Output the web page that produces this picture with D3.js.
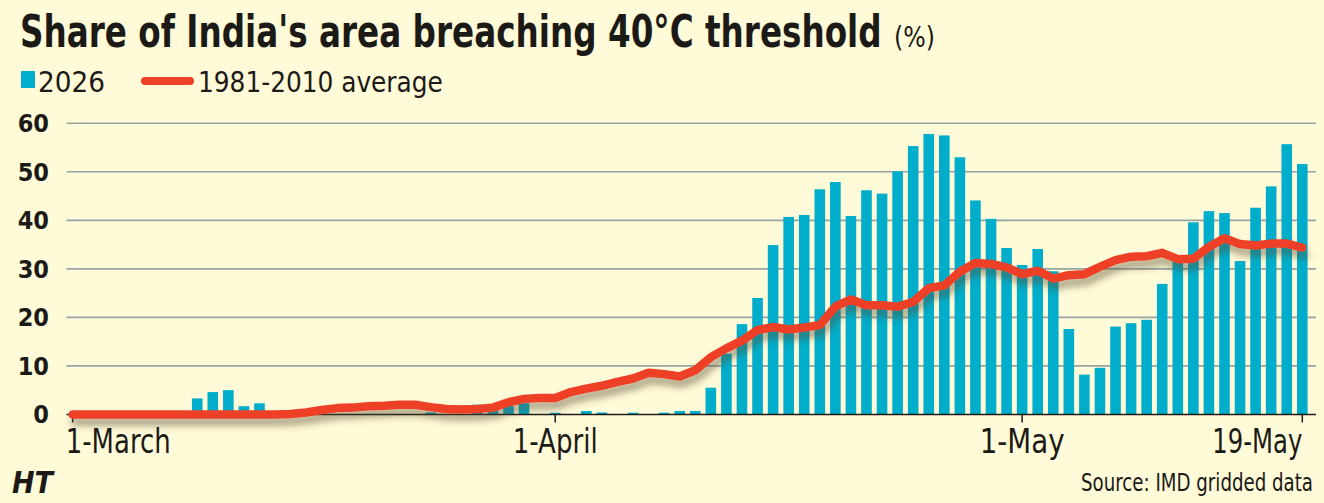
<!DOCTYPE html>
<html>
<head>
<meta charset="utf-8">
<script src="https://d3js.org/d3.v7.min.js"></script>
<style>
    body { margin: 0; background: #fffad8; }
    text { font-family: "Liberation Sans Narrow", "DejaVu Sans Condensed", "Roboto Condensed", sans-serif; fill: #1c1a16; }
</style>
</head>
<body>
<script>

    // day index 0 = 1 March ... 79 = 19 May
    var days = d3.range(80);

    // share of area above 40C in 2026 (%)
    var share2026 = [
        0, 0, 0, 0, 0, 0, 0, 0, 3.3, 4.6,
        5.0, 1.7, 2.3, 0, 0, 0, 0, 0, 0, 0,
        0, 0, 0, 0.4, 0, 0, 2.0, 1.0, 1.7, 2.3,
        0, 0.35, 0, 0.7, 0.4, 0, 0.35, 0, 0.35, 0.7,
        0.7, 5.5, 12.5, 18.6, 24.0, 34.9, 40.7, 41.1, 46.4, 47.9,
        40.9, 46.2, 45.5, 50.1, 55.3, 57.8, 57.5, 53.0, 44.1, 40.3,
        34.3, 30.8, 34.1, 29.5, 17.6, 8.2, 9.6, 18.1, 18.8, 19.5,
        26.9, 32.0, 39.6, 41.9, 41.5, 31.6, 42.6, 47.0, 55.7, 51.6
    ];

    // 1981-2010 average (%)
    var shareAvg = [
        0, 0, 0, 0, 0, 0, 0, 0, 0, 0,
        0, 0, 0, 0, 0.1, 0.4, 0.9, 1.3, 1.4, 1.7,
        1.8, 2.0, 2.0, 1.5, 1.1, 1.0, 1.1, 1.4, 2.5, 3.2,
        3.4, 3.4, 4.6, 5.3, 5.9, 6.7, 7.4, 8.6, 8.3, 7.8,
        9.1, 11.8, 13.6, 15.2, 17.4, 18.0, 17.5, 17.9, 18.4, 22.2,
        23.7, 22.5, 22.5, 22.2, 23.2, 26.0, 26.6, 29.4, 31.2, 31.0,
        30.3, 28.9, 29.6, 28.0, 28.7, 28.9, 30.4, 31.8, 32.5, 32.6,
        33.3, 32.0, 32.1, 34.5, 36.3, 35.1, 34.8, 35.2, 35.2, 34.4
    ];

    var yTicks = [0, 10, 20, 30, 40, 50, 60];
    var xTickDays = [0, 31, 61, 79];
    var xTickLabels = ["1-March", "1-April", "1-May", "19-May"];
    var xTickAnchors = ["start", "middle", "middle", "end"];
    var xTickWidths = [105, 85, 85, 90];

    var W = 1324, H = 503;
    var svg = d3.select("body").append("svg")
        .attr("width", W)
        .attr("height", H);

    svg.append("rect").attr("width", W).attr("height", H).attr("fill", "#fffad8");

    // squeeze a text to a given width (fonts here are wider than the original)
    function fitText(t, px, py, width) {
        t.attr("x", 0).attr("y", 0);
        var w = t.node().getComputedTextLength();
        t.attr("transform", "translate(" + px + "," + py + ") scale(" + (width / w) + ",1)");
        return t;
    }

    // shadow under the red line
    var defs = svg.append("defs");
    defs.append("filter")
        .attr("id", "shadow")
        .attr("x", "-5%").attr("y", "-50%")
        .attr("width", "110%").attr("height", "200%")
        .append("feDropShadow")
        .attr("dx", 2).attr("dy", 7)
        .attr("stdDeviation", 3.5)
        .attr("flood-color", "#54482f")
        .attr("flood-opacity", 0.5);

    var x = d3.scaleLinear().domain([0, 79]).range([72.7, 1302.3]);
    var y = d3.scaleLinear().domain([0, 60]).range([414.4, 123.3]);
    var barW = 10.6;

    // title
    fitText(svg.append("text")
        .attr("font-size", 44).attr("font-weight", "bold")
        .text("Share of India's area breaching 40°C threshold"), 20, 47, 862);
    fitText(svg.append("text")
        .attr("font-size", 28)
        .text("(%)"), 894, 47, 41);

    // legend
    svg.append("rect").attr("x", 21).attr("y", 71).attr("width", 14).attr("height", 17).attr("fill", "#00adca");
    fitText(svg.append("text").attr("font-size", 29).text("2026"), 38, 92, 67);
    svg.append("line").attr("x1", 145).attr("x2", 190).attr("y1", 81).attr("y2", 81)
        .attr("stroke", "#ee4128").attr("stroke-width", 8).attr("stroke-linecap", "round");
    fitText(svg.append("text").attr("font-size", 29).text("1981-2010 average"), 198, 92, 245);

    // gridlines + y labels
    svg.append("g").selectAll("line")
        .data(yTicks.filter(function (d) { return d > 0; }))
        .enter().append("line")
        .attr("x1", 66.5).attr("x2", 1316)
        .attr("y1", function (d) { return y(d); })
        .attr("y2", function (d) { return y(d); })
        .attr("stroke", "#97a4a3").attr("stroke-width", 1.6);

    svg.append("g").selectAll("text")
        .data(yTicks)
        .enter().append("text")
        .attr("x", 49)
        .attr("y", function (d) { return y(d) + 9; })
        .attr("text-anchor", "end")
        .attr("font-size", 25).attr("font-weight", "bold")
        .text(function (d) { return d; });

    // bars
    svg.append("g").selectAll("rect")
        .data(days)
        .enter().append("rect")
        .attr("x", function (d) { return x(d) - barW / 2; })
        .attr("width", barW)
        .attr("y", function (d) { return y(share2026[d]); })
        .attr("height", function (d) { return y(0) - y(share2026[d]); })
        .attr("fill", "#00adca");

    // baseline + ticks
    svg.append("line").attr("x1", 66.5).attr("x2", 1316).attr("y1", y(0)).attr("y2", y(0))
        .attr("stroke", "#1c1a16").attr("stroke-width", 1.5);
    svg.append("g").selectAll("line")
        .data(xTickDays)
        .enter().append("line")
        .attr("x1", function (d) { return x(d); })
        .attr("x2", function (d) { return x(d); })
        .attr("y1", y(0)).attr("y2", y(0) + 8)
        .attr("stroke", "#1c1a16").attr("stroke-width", 1.5);

    // average line
    var line = d3.line()
        .x(function (d) { return x(d); })
        .y(function (d) { return y(shareAvg[d]); });
    svg.append("path")
        .datum(days)
        .attr("d", line)
        .attr("fill", "none")
        .attr("stroke", "#ee4128")
        .attr("stroke-width", 8.5)
        .attr("stroke-linejoin", "round")
        .attr("stroke-linecap", "round")
        .attr("filter", "url(#shadow)");

    // x labels
    var xLabels = svg.append("g");
    xTickDays.forEach(function (d, i) {
        fitText(xLabels.append("text")
            .attr("text-anchor", xTickAnchors[i])
            .attr("font-size", 33)
            .text(xTickLabels[i]), x(d) + (i == 0 ? -7 : 0), 453, xTickWidths[i]);
    });

    // footer
    svg.append("text").attr("x", 12).attr("y", 493)
        .attr("font-family", "'Liberation Serif', serif")
        .attr("font-size", 30).attr("font-weight", "bold").attr("font-style", "italic")
        .text("HT");
    fitText(svg.append("text")
        .attr("text-anchor", "end").attr("font-size", 25)
        .text("Source: IMD gridded data"), 1313, 491, 232);

</script>
</body>
</html>
